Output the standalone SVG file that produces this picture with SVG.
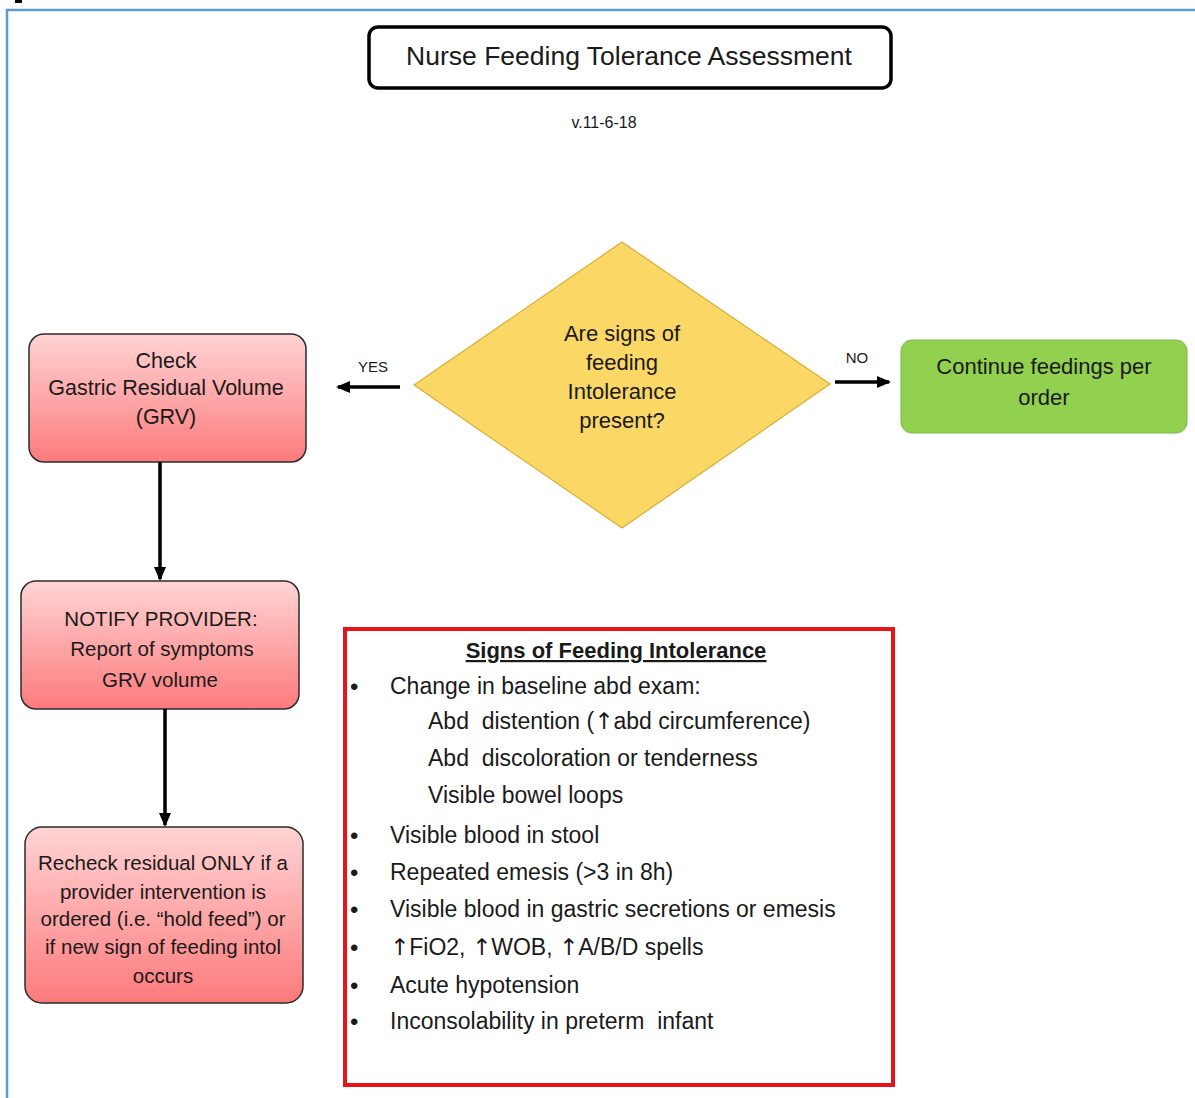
<svg xmlns="http://www.w3.org/2000/svg" width="1195" height="1098" viewBox="0 0 1195 1098">
<style>
text{font-family:"Liberation Sans",Arial,sans-serif;fill:#1a1a1a}
.c{text-anchor:middle}
.box{stroke:#2b2b2b;stroke-width:1.5}
.conn{stroke:#000;stroke-width:3.5;fill:none}
.lst{font-size:23px}
.bul{font-size:24px}
.up{font-family:"DejaVu Sans",sans-serif}
</style>
<defs>
<linearGradient id="pink" x1="0" y1="0" x2="0" y2="1">
<stop offset="0" stop-color="#FFD4D4"/>
<stop offset="1" stop-color="#FC7A7C"/>
</linearGradient>
<marker id="ah2" markerWidth="14" markerHeight="12" refX="12" refY="6" orient="auto" markerUnits="userSpaceOnUse" viewBox="0 0 14 12">
<path d="M0,0 L14,6 L0,12 Z" fill="#000"/>
</marker>
</defs>
<rect width="1195" height="1098" fill="#fff"/>
<g id="frame">
<path d="M7,1098 V10 H1195" fill="none" stroke="#5B9BD5" stroke-width="2.5"/>
<rect x="15" y="0" width="7" height="3" fill="#000"/>
</g>
<g id="title">
<rect x="369" y="27" width="522" height="61" rx="9" fill="#fff" stroke="#000" stroke-width="3.5"/>
<text class="c" x="629" y="65" font-size="26.5">Nurse Feeding Tolerance Assessment</text>
<text class="c" x="604" y="128" font-size="16">v.11-6-18</text>
</g>
<g id="decision">
<polygon points="622,242 830,384 622,528 414,385" fill="#FBD766" stroke="#D9AE38" stroke-width="1.2"/>
<text class="c" font-size="22" x="622" y="341">Are signs of</text>
<text class="c" font-size="22" x="622" y="370">feeding</text>
<text class="c" font-size="22" x="622" y="399">Intolerance</text>
<text class="c" font-size="22" x="622" y="428">present?</text>
</g>
<g id="continue">
<rect x="901" y="340" width="286" height="93" rx="11" fill="#92D050" stroke="#7DB844" stroke-width="1"/>
<text class="c" font-size="22" x="1044" y="374">Continue feedings per</text>
<text class="c" font-size="22" x="1044" y="405">order</text>
</g>
<g id="check">
<rect class="box" x="29" y="334" width="277" height="128" rx="15" fill="url(#pink)"/>
<text class="c" font-size="21.5" x="166" y="368">Check</text>
<text class="c" font-size="21.5" x="166" y="395">Gastric Residual Volume</text>
<text class="c" font-size="21.5" x="166" y="424">(GRV)</text>
</g>
<g id="notify">
<rect class="box" x="21" y="581" width="278" height="128" rx="15" fill="url(#pink)"/>
<text class="c" font-size="20.5" x="161" y="626">NOTIFY PROVIDER:</text>
<text class="c" font-size="20.5" x="162" y="656">Report of symptoms</text>
<text class="c" font-size="20.5" x="160" y="687">GRV volume</text>
</g>
<g id="recheck">
<rect class="box" x="25" y="827" width="278" height="176" rx="17" fill="url(#pink)"/>
<text class="c" font-size="20.5" x="163" y="870">Recheck residual ONLY if a</text>
<text class="c" font-size="20.5" x="163" y="899">provider intervention is</text>
<text class="c" font-size="20.5" x="163" y="926">ordered (i.e. “hold feed”) or</text>
<text class="c" font-size="20.5" x="163" y="954">if new sign of feeding intol</text>
<text class="c" font-size="20.5" x="163" y="983">occurs</text>
</g>
<g id="signs">
<rect x="345" y="629" width="548" height="456" fill="#fff" stroke="#E8141B" stroke-width="4"/>
<text class="c" x="616" y="658" font-size="22" font-weight="bold" text-decoration="underline">Signs of Feeding Intolerance</text>
<g class="bul">
<text x="350" y="695">•</text>
<text x="350" y="844">•</text>
<text x="350" y="881">•</text>
<text x="350" y="918">•</text>
<text x="350" y="956">•</text>
<text x="350" y="994">•</text>
<text x="350" y="1030">•</text>
</g>
<g class="lst">
<text x="390" y="694">Change in baseline abd exam:</text>
<text x="428" y="729">Abd&#160; distention (<tspan class="up">↑</tspan>abd circumference)</text>
<text x="428" y="766">Abd&#160; discoloration or tenderness</text>
<text x="428" y="803">Visible bowel loops</text>
<text x="390" y="843">Visible blood in stool</text>
<text x="390" y="880">Repeated emesis (&gt;3 in 8h)</text>
<text x="390" y="917">Visible blood in gastric secretions or emesis</text>
<text x="390" y="955"><tspan class="up">↑</tspan>FiO2, <tspan class="up">↑</tspan>WOB, <tspan class="up">↑</tspan>A/B/D spells</text>
<text x="390" y="993">Acute hypotension</text>
<text x="390" y="1029">Inconsolability in preterm&#160; infant</text>
</g>
</g>
<g id="connectors">
<line class="conn" x1="400" y1="387" x2="338" y2="387" marker-end="url(#ah2)"/>
<text class="c" x="373" y="372" font-size="15">YES</text>
<line class="conn" x1="835" y1="382" x2="889" y2="382" marker-end="url(#ah2)"/>
<text class="c" x="857" y="363" font-size="15">NO</text>
<line class="conn" x1="160" y1="462" x2="160" y2="579" marker-end="url(#ah2)"/>
<line class="conn" x1="165" y1="709" x2="165" y2="825" marker-end="url(#ah2)"/>
</g>
</svg>
